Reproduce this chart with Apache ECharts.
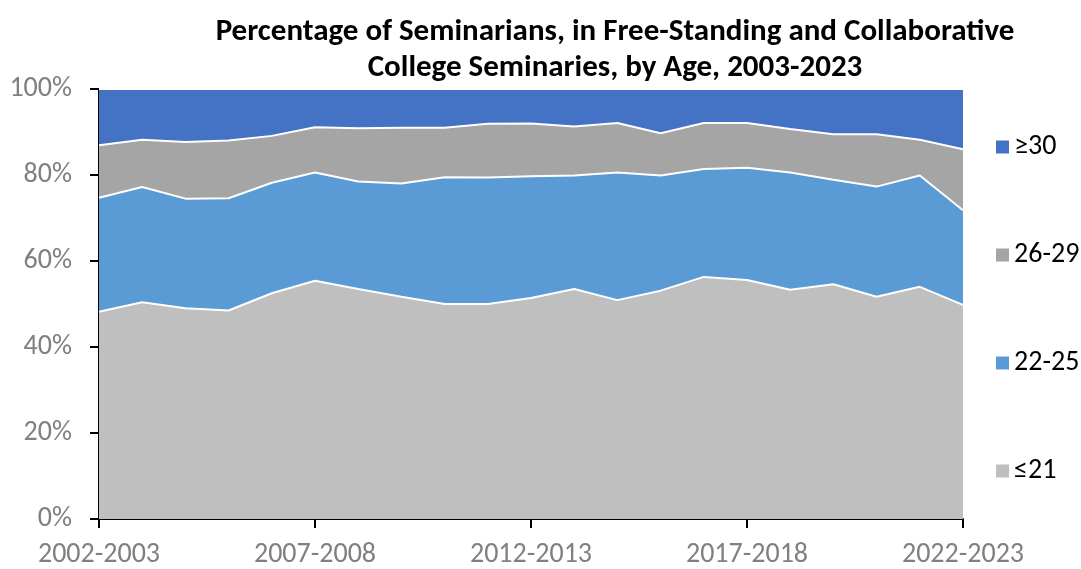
<!DOCTYPE html>
<html>
<head>
<meta charset="utf-8">
<script src="https://cdn.jsdelivr.net/npm/echarts@6/dist/echarts.min.js"></script>
<style>
  html, body { margin: 0; padding: 0; background: #fff; }
  #chart { width: 1081px; height: 569px; }
</style>
</head>
<body>
<div id="chart"></div>
<script>
  const years = ['2002-2003', '2003-2004', '2004-2005', '2005-2006', '2006-2007', '2007-2008',
    '2008-2009', '2009-2010', '2010-2011', '2011-2012', '2012-2013', '2013-2014', '2014-2015',
    '2015-2016', '2016-2017', '2017-2018', '2018-2019', '2019-2020', '2020-2021', '2021-2022', '2022-2023'];

  // share of seminarians, percent
  const age21 = [48.2, 50.4, 49.0, 48.5, 52.5, 55.4, 53.5, 51.7, 50.0, 50.0, 51.4,
    53.5, 50.9, 53.1, 56.3, 55.6, 53.3, 54.6, 51.7, 54.0, 49.8];
  const age22to25 = [26.5, 26.8, 25.5, 26.1, 25.7, 25.2, 25.0, 26.3, 29.5, 29.4, 28.3,
    26.4, 29.7, 26.8, 25.1, 26.1, 27.3, 24.3, 25.6, 25.9, 22.0];
  const age26to29 = [12.2, 11.0, 13.2, 13.4, 10.9, 10.5, 12.4, 13.0, 11.5, 12.5, 12.3,
    11.4, 11.5, 9.8, 10.7, 10.4, 10.1, 10.6, 12.2, 8.3, 14.2];
  const age30 = [13.1, 11.8, 12.3, 12.0, 10.9, 8.9, 9.1, 9.0, 9.0, 8.1, 8.0,
    8.7, 7.9, 10.3, 7.9, 7.9, 9.3, 10.5, 10.5, 11.8, 14.0];

  const yTicks = [0, 20, 40, 60, 80, 100];

  const font = 'Carlito, Lato, "Open Sans", sans-serif';

  let myChart = echarts.init(document.getElementById('chart'));

  function area(name, data, color) {
    return {
      name: name,
      type: 'line',
      stack: 'total',
      symbol: 'none',
      data: data,
      lineStyle: { color: '#ffffff', width: 2 },
      itemStyle: { color: color },
      areaStyle: { color: color, opacity: 1 }
    };
  }

  myChart.setOption({
    animation: false,
    textStyle: { fontFamily: font },
    title: {
      text: 'Percentage of Seminarians, in Free-Standing and Collaborative\nCollege Seminaries, by Age, 2003-2023',
      left: 610,
      top: 9,
      textAlign: 'center',
      textStyle: {
        fontFamily: font,
        fontSize: 31,
        fontWeight: 'bold',
        color: '#000',
        lineHeight: 36
      }
    },
    grid: {
      left: 99,
      right: 118,
      top: 89,
      bottom: 48
    },
    legend: {
      orient: 'vertical',
      left: 991,
      top: 128,
      itemWidth: 13,
      itemHeight: 13,
      itemGap: 80,
      icon: 'rect',
      data: ['≥30', '26-29', '22-25', '≤21'],
      textStyle: { fontFamily: font, fontSize: 28, lineHeight: 27, color: '#000' }
    },
    xAxis: {
      type: 'category',
      boundaryGap: false,
      data: years,
      axisLine: { lineStyle: { color: '#000', width: 2 } },
      axisTick: { show: true, interval: 4, length: 9, lineStyle: { color: '#000', width: 2 } },
      axisLabel: { interval: 4, color: '#808080', fontSize: 28, margin: 22 },
      splitLine: { show: false }
    },
    yAxis: {
      type: 'value',
      min: yTicks[0],
      max: yTicks[yTicks.length - 1],
      interval: 20,
      axisLine: { show: true, lineStyle: { color: '#000', width: 2 } },
      axisTick: { show: true, length: 9, lineStyle: { color: '#000', width: 2 } },
      axisLabel: { formatter: '{value}%', color: '#808080', fontSize: 28, margin: 27 },
      splitLine: { show: false }
    },
    series: [
      area('≤21', age21, '#BFBFBF'),
      area('22-25', age22to25, '#5B9BD5'),
      area('26-29', age26to29, '#A5A5A5'),
      area('≥30', age30, '#4472C4')
    ]
  });

  window.addEventListener('resize', () => {
    myChart.resize();
  });
</script>
</body>
</html>
